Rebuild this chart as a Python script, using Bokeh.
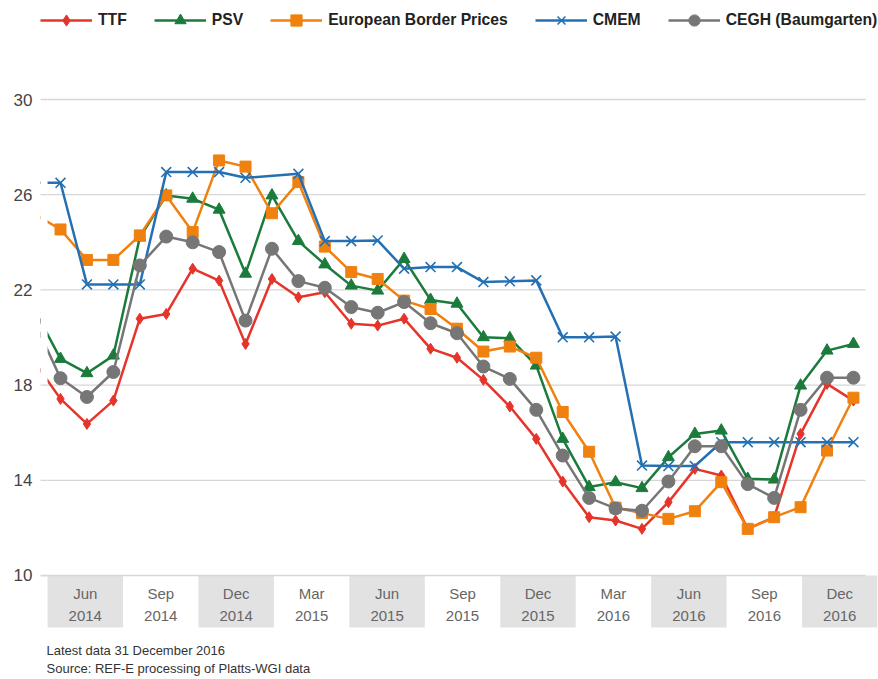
import numpy as np
import pandas as pd
from bokeh.plotting import figure
from bokeh.models import Range1d, FixedTicker, Legend, LegendItem
from bokeh.embed import file_html
from bokeh.resources import INLINE
from bokeh.core.properties import value

# ---------------- data ----------------
months = [str(m) for m in pd.period_range("2014-05", "2016-12", freq="M")]  # May 2014 .. Dec 2016

ttf = [19.0, 17.42, 16.37, 17.35, 20.79, 20.99, 22.89, 22.39, 19.73, 22.46, 21.69, 21.9,
       20.58, 20.5, 20.79, 19.53, 19.15, 18.22, 17.1, 15.74, 13.95, 12.45, 12.31, 11.96,
       13.08, 14.48, 14.2, 11.96, 12.45, 15.95, 18.05, 17.35]
psv = [21.2, 19.1, 18.5, 19.24, 24.2, 25.97, 25.83, 25.37, 22.68, 25.97, 24.05, 23.07,
       22.18, 21.97, 23.3, 21.58, 21.42, 20.01, 19.97, 18.82, 15.74, 13.72, 13.92, 13.67,
       14.97, 15.95, 16.09, 14.06, 14.03, 17.98, 19.45, 19.73]
ebp = [25.2, 24.54, 23.26, 23.26, 24.29, 25.97, 24.43, 27.44, 27.18, 25.22, 26.53, 23.82,
       22.75, 22.46, 21.55, 21.2, 20.37, 19.41, 19.62, 19.15, 16.87, 15.2, 12.85, 12.62,
       12.38, 12.7, 13.92, 11.96, 12.45, 12.87, 15.25, 17.47]
cmem = [26.5, 26.5, 22.23, 22.23, 22.23, 26.95, 26.95, 26.95, 26.71, np.nan, 26.88, 24.05,
        24.05, 24.08, 22.89, 22.96, 22.96, 22.33, 22.36, 22.4, 20.01, 20.01, 20.04, 14.62,
        14.6, 14.6, 15.6, 15.6, 15.6, 15.6, 15.6, 15.6]
cegh = [20.7, 18.29, 17.5, 18.55, 23.03, 24.24, 24.0, 23.59, 20.71, 23.73, 22.37, 22.09,
        21.28, 21.04, 21.49, 20.6, 20.18, 18.78, 18.26, 16.96, 15.04, 13.26, 12.82, 12.72,
        13.95, 15.43, 15.43, 13.84, 13.26, 16.96, 18.31, 18.31]

band_months = ["Jun", "Sep", "Dec", "Mar", "Jun", "Sep", "Dec", "Mar", "Jun", "Sep", "Dec"]
band_years = ["2014", "2014", "2014", "2015", "2015", "2015", "2015", "2016", "2016", "2016", "2016"]
y_ticks = [10, 14, 18, 22, 26, 30]
notes = ["Latest data 31 December 2016", "Source: REF-E processing of Platts-WGI data"]

series = [
    ("TTF", ttf, "#e5352b", "diamond", 11),
    ("PSV", psv, "#1b7b3b", "triangle", 12),
    ("European Border Prices", ebp, "#f0810f", "square", 11),
    ("CMEM", cmem, "#2470b3", "x", 14),
    ("CEGH (Baumgarten)", cegh, "#767676", "circle", 13),
]

# ---------------- layout ----------------
x = np.arange(len(months)) - 1          # Jun 2014 -> 0
X0, X1 = -0.757, 30.91                  # frame extent (x)
BX0 = -0.49                             # start of category bands / clipping of lines
Y0, Y1 = 5.63, 34.16                    # frame extent (y), incl. legend and notes area
BAND_BOTTOM = 7.815
GRID_END = 30.46
NOTE_X = -0.53
NOTE_Y = [6.85, 6.09]
FONT = "Liberation Sans"
GRID_COL = "#d6d6d6"

p = figure(width=878, height=679, x_range=Range1d(X0, X1), y_range=Range1d(Y0, Y1),
           output_backend="svg", toolbar_location=None, x_axis_location=None,
           min_border_left=40, min_border_right=1, min_border_top=0, min_border_bottom=0)
p.outline_line_color = None
p.xgrid.visible = False
p.ygrid.visible = False
p.background_fill_color = "white"

# category bands
edges = np.linspace(BX0, X1, len(band_months) + 1)
centers = (edges[:-1] + edges[1:]) / 2
grey_idx = list(range(0, len(band_months), 2))
p.quad(left=edges[grey_idx], right=edges[[i + 1 for i in grey_idx]],
       bottom=BAND_BOTTOM, top=y_ticks[0], fill_color="#e2e2e2", line_color=None)
p.text(x=centers, y=9.24, text=band_months, text_align="center", text_baseline="middle",
       text_font=value(FONT), text_font_size="15px", text_color="#666666")
p.text(x=centers, y=8.3, text=band_years, text_align="center", text_baseline="middle",
       text_font=value(FONT), text_font_size="15px", text_color="#666666")

# gridlines
p.segment(x0=X0, x1=GRID_END, y0=y_ticks, y1=y_ticks, line_color=GRID_COL, line_width=1.3)

# series
items = []
for name, vals, col, mk, sz in series:
    v = np.array(vals, dtype=float)
    ok = ~np.isnan(v)
    r_line = p.line(x[ok], v[ok], line_color=col, line_width=2.5)
    if mk == "x":
        r_mk = p.scatter(x[ok], v[ok], marker=mk, size=sz, line_color=col, line_width=1.6)
    else:
        r_mk = p.scatter(x[ok], v[ok], marker=mk, size=sz, fill_color=col, line_color=col)
    items.append(LegendItem(label=name, renderers=[r_line, r_mk]))

# lines start where the bands start: mask the sliver left of it, then restore grid there
p.quad(left=[X0], right=[BX0], bottom=[y_ticks[0]], top=[Y1], fill_color="white", line_color=None)
p.segment(x0=X0, x1=BX0, y0=y_ticks, y1=y_ticks, line_color=GRID_COL, line_width=1.3)

# footnotes
p.text(x=[NOTE_X] * len(notes), y=NOTE_Y, text=notes, text_align="left", text_baseline="middle",
       text_font=value(FONT), text_font_size="13px", text_color="#333333")

# y axis
p.yaxis.ticker = FixedTicker(ticks=y_ticks)
p.yaxis.axis_line_color = None
p.yaxis.major_tick_line_color = None
p.yaxis.minor_tick_line_color = None
p.yaxis.major_tick_out = 0
p.yaxis.major_tick_in = 0
p.yaxis.minor_tick_out = 0
p.yaxis.major_label_standoff = 8
p.yaxis.major_label_text_font = FONT
p.yaxis.major_label_text_font_size = "17px"
p.yaxis.major_label_text_color = "#444444"

# legend: located from the frame's bottom-left (frame bottom is the page bottom)
legend = Legend(items=items, orientation="horizontal", location=(0, 645),
                glyph_width=52, glyph_height=28, label_height=28, label_standoff=6,
                spacing=27, padding=0, margin=0, border_line_color=None,
                background_fill_alpha=0, label_text_font=FONT, label_text_font_style="bold",
                label_text_font_size="15.7px", label_text_color="#222222")
p.add_layout(legend)

open("out.html", "w").write(file_html(p, INLINE))
